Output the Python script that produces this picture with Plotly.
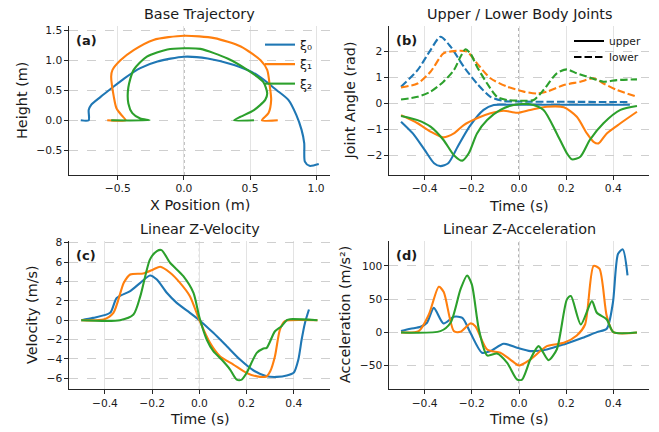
import plotly.graph_objects as go

C0, C1, C2 = "#1f77b4", "#ff7f0e", "#2ca02c"

# ---------- (a) Base trajectory ----------
a_x0 = [-0.78, -0.72, -0.72, -0.70, -0.63, -0.55, -0.45, -0.33, -0.20, 0.0, 0.18, 0.38, 0.55, 0.70, 0.79, 0.85, 0.89, 0.91, 0.915, 0.95, 1.02]
a_y0 = [0.0, 0.0, 0.17, 0.26, 0.39, 0.53, 0.70, 0.87, 0.98, 1.06, 1.03, 0.92, 0.76, 0.505, 0.34, 0.09, -0.16, -0.38, -0.69, -0.76, -0.73]
a_x1 = [-0.58, -0.44, -0.47, -0.51, -0.53, -0.55, -0.54, -0.48, -0.38, -0.23, 0.0, 0.23, 0.43, 0.58, 0.63, 0.65, 0.66, 0.64, 0.59, 0.71]
a_y1 = [0.0, 0.0, 0.08, 0.20, 0.39, 0.73, 0.84, 1.00, 1.17, 1.34, 1.41, 1.37, 1.23, 1.00, 0.84, 0.56, 0.34, 0.12, 0.0, 0.0]
a_x2 = [-0.55, -0.26, -0.33, -0.39, -0.42, -0.42, -0.38, -0.28, -0.125, 0.0, 0.125, 0.33, 0.48, 0.60, 0.63, 0.615, 0.53, 0.43, 0.38, 0.53]
a_y2 = [0.0, 0.0, 0.03, 0.12, 0.28, 0.55, 0.84, 1.06, 1.18, 1.20, 1.19, 1.03, 0.84, 0.64, 0.45, 0.34, 0.17, 0.06, 0.0, 0.0]
series_names = ["ξ₀", "ξ₁", "ξ₂"]

# ---------- (b) Joint angles ----------
b_t_up0 = [-0.5, -0.45, -0.40, -0.36, -0.333, -0.30, -0.26, -0.21, -0.15, -0.107, -0.05, 0.1, 0.3, 0.47]
b_up0 = [-0.70, -1.15, -1.78, -2.29, -2.40, -2.29, -1.66, -0.89, -0.25, -0.06, -0.05, -0.05, -0.05, -0.05]
b_t_lo0 = [-0.5, -0.43, -0.375, -0.333, -0.29, -0.234, -0.178, -0.121, -0.065, 0.0, 0.2, 0.46]
b_lo0 = [0.64, 1.27, 2.04, 2.55, 2.17, 1.40, 0.76, 0.25, 0.09, 0.07, 0.06, 0.05]
b_t_up1 = [-0.5, -0.43, -0.375, -0.32, -0.276, -0.234, -0.178, -0.121, -0.065, -0.008, 0.048, 0.118, 0.19, 0.245, 0.288, 0.316, 0.337, 0.372, 0.43, 0.5]
b_up1 = [-0.45, -0.76, -1.08, -1.30, -1.15, -0.83, -0.57, -0.38, -0.28, -0.36, -0.25, -0.13, -0.15, -0.51, -1.15, -1.47, -1.53, -1.15, -0.76, -0.32]
b_t_lo1 = [-0.5, -0.43, -0.375, -0.32, -0.276, -0.22, -0.178, -0.121, -0.05, 0.02, 0.076, 0.118, 0.19, 0.26, 0.316, 0.358, 0.415, 0.5]
b_lo1 = [0.61, 0.76, 1.21, 1.91, 2.0, 1.98, 1.53, 0.96, 0.64, 0.45, 0.38, 0.45, 0.70, 0.83, 0.96, 0.76, 0.51, 0.25]
b_t_up2 = [-0.5, -0.43, -0.375, -0.32, -0.276, -0.24, -0.213, -0.178, -0.135, -0.079, -0.023, 0.048, 0.104, 0.16, 0.203, 0.224, 0.26, 0.30, 0.358, 0.43, 0.5]
b_up2 = [-0.48, -0.64, -0.89, -1.40, -1.98, -2.19, -1.91, -1.15, -0.64, -0.25, -0.06, -0.03, -0.25, -1.15, -1.91, -2.14, -2.04, -1.40, -0.76, -0.25, -0.10]
b_t_lo2 = [-0.5, -0.43, -0.375, -0.32, -0.276, -0.248, -0.227, -0.206, -0.178, -0.135, -0.093, -0.05, 0.02, 0.062, 0.104, 0.16, 0.203, 0.245, 0.30, 0.358, 0.415, 0.5]
b_lo2 = [0.15, 0.25, 0.45, 0.83, 1.27, 1.78, 2.07, 1.91, 1.40, 0.76, 0.25, 0.13, 0.10, 0.13, 0.51, 1.15, 1.30, 1.15, 0.99, 0.83, 0.89, 0.92]
style_names = ["upper", "lower"]

# ---------- (c) Z velocity ----------
c_t0 = [-0.5, -0.45, -0.378, -0.35, -0.293, -0.25, -0.209, -0.18, -0.138, -0.096, -0.04, 0.0, 0.059, 0.116, 0.172, 0.228, 0.285, 0.327, 0.37, 0.40, 0.419, 0.433, 0.447, 0.464]
c_v0 = [0.0, 0.24, 0.76, 2.3, 3.0, 3.86, 4.62, 4.2, 2.83, 1.79, 0.76, 0.0, -1.31, -2.69, -4.07, -5.17, -5.79, -5.86, -5.72, -5.4, -4.07, -2.0, -0.28, 1.1]
c_t1 = [-0.5, -0.406, -0.364, -0.32, -0.293, -0.237, -0.195, -0.166, -0.124, -0.082, -0.04, 0.0, 0.045, 0.087, 0.144, 0.2, 0.257, 0.285, 0.3, 0.32, 0.341, 0.362, 0.384, 0.5]
c_v1 = [0.0, 0.07, 0.76, 3.86, 4.72, 4.83, 5.24, 5.52, 4.9, 3.86, 2.48, 0.0, -2.34, -3.72, -4.59, -5.45, -5.86, -5.79, -5.28, -3.72, -0.97, -0.1, 0.0, 0.0]
c_t2 = [-0.5, -0.336, -0.279, -0.25, -0.209, -0.18, -0.16, -0.124, -0.068, -0.025, 0.0, 0.031, 0.059, 0.094, 0.13, 0.158, 0.179, 0.2, 0.243, 0.271, 0.285, 0.32, 0.348, 0.37, 0.384, 0.5]
c_v2 = [0.0, 0.0, 0.59, 2.48, 6.28, 7.14, 7.24, 5.93, 4.55, 2.83, 0.3, -2.0, -3.2, -4.07, -5.1, -6.14, -6.14, -5.45, -3.38, -2.93, -2.86, -1.14, -0.62, 0.0, 0.1, 0.0]

# ---------- (d) Z acceleration ----------
d_t0 = [-0.5, -0.46, -0.417, -0.39, -0.361, -0.32, -0.276, -0.24, -0.206, -0.157, -0.121, -0.065, -0.008, 0.048, 0.118, 0.19, 0.27, 0.33, 0.372, 0.398, 0.42, 0.44, 0.46]
d_a0 = [2, 5.5, 8.5, 14.6, 37, 13.5, 23.6, 22, -0.5, -30.6, -28, -17, -23, -28, -25.6, -18, -8, 0.5, 5.5, 44.7, 118.5, 125, 86]
d_t1 = [-0.5, -0.425, -0.382, -0.34, -0.319, -0.276, -0.248, -0.206, -0.185, -0.135, -0.079, -0.037, 0.0, 0.048, 0.118, 0.19, 0.245, 0.28, 0.316, 0.341, 0.372, 0.4, 0.5]
d_a1 = [0, 2, 27, 68.8, 60.7, 2, 1, 13.6, 9.5, -25.6, -30.6, -40.7, -49.7, -40.7, -20.6, -15.6, -4.5, 12, 100, 95.9, 24.6, 0.5, 0]
d_t2 = [-0.5, -0.333, -0.29, -0.248, -0.22, -0.2, -0.17, -0.135, -0.093, -0.05, -0.008, 0.013, 0.048, 0.083, 0.125, 0.16, 0.203, 0.22, 0.262, 0.309, 0.33, 0.372, 0.4, 0.5]
d_a2 = [0, 2, 14.6, 64.8, 85.8, 72.3, 4.5, -34.6, -31.6, -45.7, -70.8, -70.8, -40.7, -20.6, -41.7, -25.6, 49.7, 54.7, 12, 47.2, 29.6, 19.6, 0.5, 0]

W, H = 659, 432
FONT = "DejaVu Sans"
TXT = "#1a1a1a"
LW = 2.1
SM = 0.7
DASH = "7.5px,3px"

fig = go.Figure()

def add(x, y, color, xa, ya, dash="solid", name=None, legend=None, shape="spline"):
    kw = {}
    if legend is not None:
        kw["legend"] = legend
    fig.add_trace(go.Scatter(
        x=x, y=y, mode="lines", xaxis=xa, yaxis=ya,
        line=dict(color=color, width=LW, dash=dash, shape=shape, smoothing=SM),
        name=name, showlegend=name is not None, **kw))

cols = [C0, C1, C2]
leg_ids = ["legend", "legend2", "legend3"]
for xs, ys, c, n, lg in zip([a_x0, a_x1, a_x2], [a_y0, a_y1, a_y2], cols, series_names, leg_ids):
    add(xs, ys, c, "x", "y", name=n, legend=lg)

for (tu, yu, tl, yl), c in zip([(b_t_up0, b_up0, b_t_lo0, b_lo0),
                                 (b_t_up1, b_up1, b_t_lo1, b_lo1),
                                 (b_t_up2, b_up2, b_t_lo2, b_lo2)], cols):
    add(tl, yl, c, "x2", "y2", dash=DASH)
    add(tu, yu, c, "x2", "y2")
add([None], [None], "black", "x2", "y2", name=style_names[0], legend="legend4")
add([None], [None], "black", "x2", "y2", dash=DASH, name=style_names[1], legend="legend5")

for t, v, c in zip([c_t0, c_t1, c_t2], [c_v0, c_v1, c_v2], cols):
    add(t, v, c, "x3", "y3")
for t, v, c in zip([d_t0, d_t1, d_t2], [d_a0, d_a1, d_a2], cols):
    add(t, v, c, "x4", "y4")

def px(v):
    return v / W

def py(v):
    return 1 - v / H

dom_l = [px(69), px(330)]
dom_r = [px(389), px(649)]
dom_t = [py(175), py(26)]
dom_b = [py(389.3), py(241)]

M = "\u2212"

def fmt(v, d):
    s = f"{abs(v):.{d}f}"
    return (M + s) if v < 0 else s

def axis_common(dom, rng, vals, d, is_x, anchor):
    return dict(
        domain=dom, range=rng, anchor=anchor, tickmode="array", tickvals=vals,
        ticktext=[fmt(v, d) for v in vals], showline=True, linecolor="#262626", linewidth=1.1,
        ticks="outside", ticklen=3.5, tickwidth=1, tickcolor="#262626",
        tickfont=dict(family=FONT, size=10.7, color=TXT), zeroline=False,
        showgrid=True, gridcolor="#e3e3e3" if is_x else "#cfcfcf",
        griddash="solid" if is_x else "dash", gridwidth=0.8, automargin=False)

t_ticks = [-0.4, -0.2, 0.0, 0.2, 0.4]
fig.update_layout(
    xaxis=axis_common(dom_l, [-0.869, 1.105], [-0.5, 0.0, 0.5, 1.0], 1, True, "y"),
    yaxis=axis_common(dom_t, [-0.913, 1.572], [-0.5, 0.0, 0.5, 1.0, 1.5], 1, False, "x"),
    xaxis2=axis_common(dom_r, [-0.551, 0.551], t_ticks, 1, True, "y2"),
    yaxis2=axis_common(dom_t, [-2.74, 2.96], [-2, -1, 0, 1, 2], 0, False, "x2"),
    xaxis3=axis_common(dom_l, [-0.552, 0.553], t_ticks, 1, True, "y3"),
    yaxis3=axis_common(dom_b, [-7.14, 8.18], [-6, -4, -2, 0, 2, 4, 6, 8], 0, False, "x3"),
    xaxis4=axis_common(dom_r, [-0.551, 0.551], t_ticks, 1, True, "y4"),
    yaxis4=axis_common(dom_b, [-85.5, 137.6], [-50, 0, 50, 100], 0, False, "x4"),
)

shapes = []
for xr, yr in [("x", "y"), ("x2", "y2"), ("x3", "y3"), ("x4", "y4")]:
    shapes.append(dict(type="line", xref=xr, yref=yr + " domain", x0=0, x1=0, y0=0, y1=1,
                       line=dict(color="#666666", width=1, dash="dot"), layer="below"))

ann = []
def text(x, y, s, size, angle=0, bold=False, ref=("paper", "paper"), xanchor="center"):
    ann.append(dict(x=x, y=y, xref=ref[0], yref=ref[1], text=("<b>%s</b>" % s) if bold else s,
                    showarrow=False, textangle=angle, xanchor=xanchor, yanchor="middle",
                    font=dict(family=FONT, size=size, color=TXT)))

# titles
text(px(199.5), py(14), "Base Trajectory", 14.4)
text(px(519), py(14), "Upper / Lower Body Joints", 14.4)
text(px(199.5), py(228.5), "Linear Z-Velocity", 14.4)
text(px(519), py(228.5), "Linear Z-Acceleration", 14.4)
# axis titles
text(px(199.5), py(205), "X Position (m)", 14.4)
text(px(519), py(205.5), "Time (s)", 14.4)
text(px(199.5), py(419), "Time (s)", 14.4)
text(px(519), py(419), "Time (s)", 14.4)
text(px(22), py(101), "Height (m)", 14.4, angle=-90)
text(px(350), py(100.5), "Joint Angle (rad)", 14.4, angle=-90)
text(px(32), py(315), "Velocity (m/s)", 14.4, angle=-90)
text(px(345), py(315), "Acceleration (m/s²)", 14.4, angle=-90)
# panel letters
for lab, xr, yr in [("(a)", "x", "y"), ("(b)", "x2", "y2"), ("(c)", "x3", "y3"), ("(d)", "x4", "y4")]:
    text(0.02, 0.902, lab, 13, bold=True, ref=(xr + " domain", yr + " domain"), xanchor="left")

def leg(xpx, ypx, size):
    return dict(x=px(xpx), y=py(ypx), xanchor="left", yanchor="middle", bgcolor="rgba(0,0,0,0)",
                font=dict(family=FONT, size=size, color=TXT), borderwidth=0)

fig.update_layout(
    width=W, height=H, margin=dict(l=0, r=0, t=0, b=0, autoexpand=False),
    paper_bgcolor="white", plot_bgcolor="white",
    font=dict(family=FONT, color=TXT),
    shapes=shapes, annotations=ann,
    legend=leg(260, 45, 12.5), legend2=leg(260, 64.5, 12.5), legend3=leg(260, 84, 12.5),
    legend4=leg(569, 41, 10.7), legend5=leg(569, 57, 10.7),
)

fig.write_html("out.html", config={"displayModeBar": False},
               post_script="document.body.style.margin='0';document.body.style.padding='0';")
